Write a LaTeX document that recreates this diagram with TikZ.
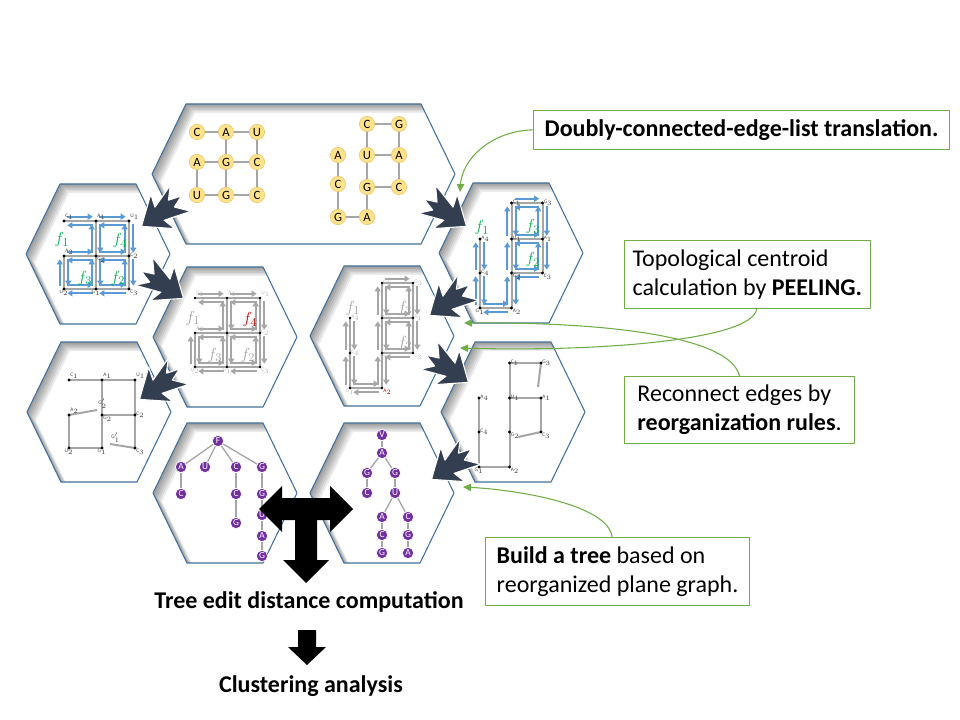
\documentclass[tikz,border=0pt]{standalone}
\usepackage{fontspec}
\setmainfont{Carlito}
\usetikzlibrary{arrows.meta,calc}

\definecolor{hexblue}{HTML}{41719C}
\definecolor{flownavy}{HTML}{333F50}
\definecolor{dcelblue}{HTML}{5B9BD5}
\definecolor{notegreen}{HTML}{70AD47}
\definecolor{facegreen}{HTML}{00B050}
\definecolor{peelred}{HTML}{C00000}
\definecolor{basegray}{HTML}{A6A6A6}
\definecolor{rnayellow}{HTML}{FFE38C}
\definecolor{rnarim}{HTML}{E8C35E}
\definecolor{treepurple}{HTML}{7030A0}

\tikzset{
  hexedge/.style={draw=hexblue, line width=0.8pt},
  rnanode/.style={circle, fill=rnayellow, draw=rnarim, line width=0.4pt, minimum size=11.5pt, inner sep=0pt, font=\fontsize{9.5}{9.5}\selectfont},
  treenode/.style={circle, fill=treepurple, draw=white, line width=0.5pt, minimum size=8.5pt, inner sep=0pt, text=white, font=\fontsize{7}{7}\selectfont},
  bond/.style={draw=basegray, line width=1.3pt},
  plane/.style={draw=basegray, line width=1.5pt},
  hedge/.style={draw=dcelblue, line width=1.3pt, -{Triangle[length=3.8pt,width=4.6pt]}, shorten <=2.5pt, shorten >=2.5pt},
  ghedge/.style={hedge, draw=basegray},
  tinylab/.style={font=\fontsize{4}{4}\selectfont, inner sep=0.8pt, text=black!75},
  facelab/.style={font=\fontsize{13}{13}\selectfont, text=facegreen, inner sep=0pt},
  note/.style={draw=notegreen, line width=0.8pt, fill=white, align=left, anchor=north west, inner xsep=6pt, font=\fontsize{18}{21.5}\selectfont},
  pointer/.style={draw=notegreen, line width=0.8pt, -{Triangle[length=6pt,width=5.5pt]}},
  flowtext/.style={font=\fontsize{18}{21.5}\selectfont\bfseries, inner sep=0pt},
}

% hexagon outline, shifted by #1, half width #2
\newcommand{\hexp}[2]{(-#2+#1,#1) -- (-#2+34+#1,-70+#1) -- (#2-34+#1,-70+#1) -- (#2+#1,#1) -- (#2-34+#1,70+#1) -- (-#2+34+#1,70+#1) -- cycle}
\newcommand{\hexcell}[4]{%
  \begin{scope}[shift={(#2,#3)}]
    \fill[white] \hexp{0}{#4};
    \begin{scope}
      \clip \hexp{0}{#4};
      \foreach \s in {1.5,3,4.5,6,7.5,9}
        \fill[black, opacity=0.075, even odd rule] (-220,-100) rectangle (220,100) \hexp{\s}{#4};
    \end{scope}
    \draw[hexedge] \hexp{0}{#4};
    \coordinate (#1) at (0,0);
  \end{scope}}
% both half-edges of an edge
\newcommand{\twohalf}[3]{%
  \draw[#3] ($(#1)!3.2pt!90:(#2)$) -- ($(#2)!3.2pt!-90:(#1)$);
  \draw[#3] ($(#2)!3.2pt!90:(#1)$) -- ($(#1)!3.2pt!-90:(#2)$);}
\newcommand{\flowarrow}[3]{%
  \filldraw[flownavy, draw=white, line width=0.8pt, shift={(#1,#2)}, rotate=#3]
    (25,0) -- (-1,-21) -- (3,-8) -- (-24,-16) -- (-13,-3) -- (-25,2) -- (-12,6) -- (-22,17) -- (3,8) -- (-1,21) -- cycle;}

\def\Ledges{00/10,10/20,01/11,11/21,02/12,12/22,01/02,10/11,11/12,20/21,21/22}
\def\Redges{10/20,10/11,20/21,11/21,11/12,21/22,12/22,12/13,01/02,02/03,03/13}
\def\Lnames{00/C$_1$/south west,10/A$_1$/south west,20/U$_1$/south west,01/A$_2$/south west,11/G$_2$/north west,21/C$_2$/west,02/U$_2$/north,12/G$_1$/north,22/C$_3$/north west}
\def\Rnames{10/C$_1$/west,20/G$_3$/west,01/A$_4$/west,11/U$_1$/west,21/A$_1$/west,02/C$_4$/west,12/G$_2$/north west,22/C$_3$/north west,03/G$_1$/north,13/A$_2$/north west}

\begin{document}
\begin{tikzpicture}[x=0.75pt, y=-0.75pt, line join=round]
\useasboundingbox (0,0) rectangle (960,720);

% honeycomb
\hexcell{hxtop}{303.5}{174}{151.5}
\hexcell{hxla}{98}{254}{72}
\hexcell{hxra}{511}{253}{72}
\hexcell{hxlb}{225}{337}{72}
\hexcell{hxrb}{382}{336}{72}
\hexcell{hxlc}{99}{412}{72}
\hexcell{hxrc}{513}{412}{72}
\hexcell{hxld}{225}{493}{72}
\hexcell{hxrd}{382}{493}{72}

% RNA secondary structures
\foreach \n/\l/\x/\y in {a/C/197/132,b/A/226/132,c/U/257/132,d/A/197/162,e/G/226/162,f/C/257/162,g/U/197/195,h/G/226/195,i/C/257/195}
  \node[rnanode] (p\n) at (\x,\y) {\l};
\foreach \p/\q in {a/b,b/c,d/e,e/f,g/h,h/i,d/g,b/e,e/h,c/f,f/i}
  \draw[bond] (p\p) -- (p\q);
\foreach \n/\l/\x/\y in {a/C/367/124,b/G/399/124,c/A/338/155,d/U/367/155,e/A/399/155,f/C/338/184,g/G/367/187,h/C/399/187,i/G/338/217,j/A/367/217}
  \node[rnanode] (q\n) at (\x,\y) {\l};
\foreach \p/\q in {a/b,a/d,b/e,d/e,d/g,e/h,g/h,g/j,c/f,f/i,i/j}
  \draw[bond] (q\p) -- (q\q);

% DCEL, square structure
\foreach \i/\x in {0/64,1/96,2/129}
  \foreach \j/\y in {0/221,1/256,2/289}
    \coordinate (a\i\j) at (\x,\y);
\foreach \p/\q in \Ledges \draw[plane] (a\p) -- (a\q);
\foreach \p/\q in \Ledges \twohalf{a\p}{a\q}{hedge};
\foreach \p in {00,10,20,01,11,21,02,12,22} \fill (a\p) circle (1.3pt);
\foreach \c/\t/\a in \Lnames \node[tinylab, anchor=\a] (a-\c) at (a\c) {\t};
\node[facelab] (fa1) at (62,240) {$f_1$};
\node[facelab] (fa4) at (120,241) {$f_4$};
\node[facelab] (fa3) at (85,278) {$f_3$};
\node[facelab] (fa2) at (118,278) {$f_2$};

% DCEL, stem structure
\foreach \i/\x in {0/480,1/511.5,2/542.5}
  \foreach \j/\y in {0/203,1/239,2/273,3/308}
    \coordinate (r\i\j) at (\x,\y);
\foreach \p/\q in \Redges \draw[plane] (r\p) -- (r\q);
\foreach \p/\q in \Redges \twohalf{r\p}{r\q}{hedge};
\foreach \p in {10,20,01,11,21,02,12,22,03,13} \fill (r\p) circle (1.3pt);
\foreach \c/\t/\a in \Rnames \node[tinylab, anchor=\a] (r-\c) at (r\c) {\t};
\node[facelab] (fr1) at (482,228) {$f_1$};
\node[facelab] (fr3) at (533,227) {$f_3$};
\node[facelab] (fr2) at (533,260) {$f_2$};

% peeling, square structure
\foreach \i/\x in {0/195,1/227,2/260}
  \foreach \j/\y in {0/298,1/333,2/367}
    \coordinate (m\i\j) at (\x,\y);
\foreach \p/\q in \Ledges \draw[plane] (m\p) -- (m\q);
\foreach \p/\q in \Ledges \twohalf{m\p}{m\q}{ghedge};
\foreach \p in {00,10,20,01,11,21,02,12,22} \fill (m\p) circle (1.1pt);
\foreach \c/\t/\a in \Lnames \node[tinylab, text=basegray!80, anchor=\a] (m-\c) at (m\c) {\t};
\node[facelab, text=basegray] (fm1) at (193,318) {$f_1$};
\node[facelab, text=peelred] (fm4) at (250,320) {$f_4$};
\node[facelab, text=basegray] (fm3) at (215,355) {$f_3$};
\node[facelab, text=basegray] (fm2) at (248,355) {$f_2$};

% peeling, stem structure
\foreach \i/\x in {0/350,1/382,2/413}
  \foreach \j/\y in {0/283,1/318,2/353,3/388}
    \coordinate (n\i\j) at (\x,\y);
\foreach \p/\q in \Redges \draw[plane] (n\p) -- (n\q);
\foreach \p/\q in \Redges \twohalf{n\p}{n\q}{ghedge};
\foreach \p in {10,20,01,11,21,02,12,22,03,13} \fill (n\p) circle (1.1pt);
\foreach \c/\t/\a in {10/C$_1$/west,20/G$_3$/west,01/A$_4$/west,11/U$_1$/west,21/A$_1$/west,02/C$_4$/west,12/G$_2$/north west,22/C$_3$/north west,03/G$_1$/north,13/{\color{peelred}A$_2$}/north west}
  \node[tinylab, text=basegray!80, anchor=\a] (n-\c) at (n\c) {\t};
\node[facelab, text=basegray] (fn1) at (353,308) {$f_1$};
\node[facelab, text=basegray] (fn3) at (405,308) {$f_3$};
\node[facelab, text=basegray] (fn2) at (405,343) {$f_2$};

% reconnected, square structure
\foreach \i/\x in {0/69,1/102,2/135}
  \foreach \j/\y in {0/380,1/415,2/448}
    \coordinate (b\i\j) at (\x,\y);
\coordinate (bg2) at (97,410);
\coordinate (bg1) at (110,444);
\foreach \p/\q in {00/10,10/20,10/11,11/12,20/21,21/22,11/21,01/02,02/12}
  \draw[plane] (b\p) -- (b\q);
\draw[plane] (b01) -- (bg2);
\draw[plane] (b22) -- (bg1);
\foreach \p in {00,10,20,01,11,21,02,12,22} \fill (b\p) circle (1.3pt);
\foreach \c/\t/\a in \Lnames \node[tinylab, anchor=\a] (b-\c) at (b\c) {\t};
\node[tinylab, anchor=south west] (b-g2) at (bg2) {G$_2'$};
\node[tinylab, anchor=south west] (b-g1) at (bg1) {G$_1'$};

% reconnected, stem structure
\foreach \i/\x in {0/479,1/509.5,2/541}
  \foreach \j/\y in {0/363,1/398,2/432,3/467}
    \coordinate (c\i\j) at (\x,\y);
\coordinate (ca1) at (538,387);
\coordinate (cg2) at (518,437);
\foreach \p/\q in {10/20,10/11,11/12,12/13,11/21,21/22,01/02,02/03,03/13}
  \draw[plane] (c\p) -- (c\q);
\draw[plane] (c20) -- (ca1);
\draw[plane] (c22) -- (cg2);
\foreach \p in {10,20,01,11,21,02,12,22,03,13} \fill (c\p) circle (1.3pt);
\foreach \c/\t/\a in \Rnames \node[tinylab, anchor=\a] (c-\c) at (c\c) {\t};

% trees
\foreach \n/\l/\x/\y in {a/F/218/441,b/A/181/467,c/U/205/467,d/C/236/467,e/G/262/467,f/C/181/494,g/C/236/494,h/G/262/494,i/G/236/523,j/U/262/515,k/A/262/536,l/G/262/556}
  \node[treenode] (u\n) at (\x,\y) {\l};
\foreach \p/\q in {a/b,a/c,a/d,a/e,b/f,d/g,g/i,e/h,h/j,j/k,k/l}
  \draw[bond, line width=1pt] (u\p) -- (u\q);
\foreach \n/\l/\x/\y in {a/V/382/435,b/A/382/453,c/G/367/473,d/G/395/473,e/C/367/493,f/U/395/493,g/A/382/517,h/C/408/517,i/C/382/535,j/G/408/535,k/G/382/553,l/A/408/553}
  \node[treenode] (v\n) at (\x,\y) {\l};
\foreach \p/\q in {a/b,b/c,b/d,c/e,d/f,f/g,f/h,g/i,i/k,h/j,j/l}
  \draw[bond, line width=1pt] (v\p) -- (v\q);

% flow between cells
\flowarrow{162}{212}{215}
\flowarrow{446}{212}{-35}
\flowarrow{163}{284}{-35}
\flowarrow{450}{301}{215}
\flowarrow{160}{385}{215}
\flowarrow{448}{368}{-35}
\flowarrow{452}{465}{215}

% comparison arrows
\fill (259,509) -- (282,486) -- (282,498) -- (330,498) -- (330,486) -- (353,509) -- (330,532) -- (330,520)
  -- (317,520) -- (317,560) -- (329,560) -- (306,583) -- (283,560) -- (295,560) -- (295,520)
  -- (282,520) -- (282,532) -- cycle;
\node[flowtext] (ted) at (309,602) {Tree edit distance computation};
\fill (298,630) -- (316,630) -- (316,647) -- (326,647) -- (307,665) -- (288,647) -- (298,647) -- cycle;
\node[flowtext] (clus) at (311,686) {Clustering analysis};

% notes
\node[note, minimum width=312pt, minimum height=29pt] (dcel) at (533,110) {\bfseries Doubly-connected-edge-list translation.};
\node[note, minimum width=182pt, minimum height=51pt] (peel) at (624,240) {Topological centroid\\calculation by \textbf{PEELING.}};
\node[note, minimum width=172.5pt, minimum height=50pt] (recon) at (624,376) {Reconnect edges by\\\textbf{reorganization rules}.};
\node[note, minimum width=198pt, minimum height=51pt] (build) at (485,537) {\textbf{Build a tree} based on\\reorganized plane graph.};

\coordinate (tipa) at (460,192);
\coordinate (tipb) at (460,348);
\coordinate (tipc) at (464,323);
\coordinate (tipd) at (463,487);
\draw[pointer] (dcel.west) .. controls (490,131) and (462,160) .. (tipa);
\draw[pointer] ([xshift=7pt]peel.south) .. controls (752,340) and (600,352) .. (tipb);
\draw[pointer] (recon.north) .. controls (730,335) and (600,322) .. (tipc);
\draw[pointer] ([xshift=-4pt]build.north) .. controls (608,505) and (520,490) .. (tipd);
\end{tikzpicture}
\end{document}
